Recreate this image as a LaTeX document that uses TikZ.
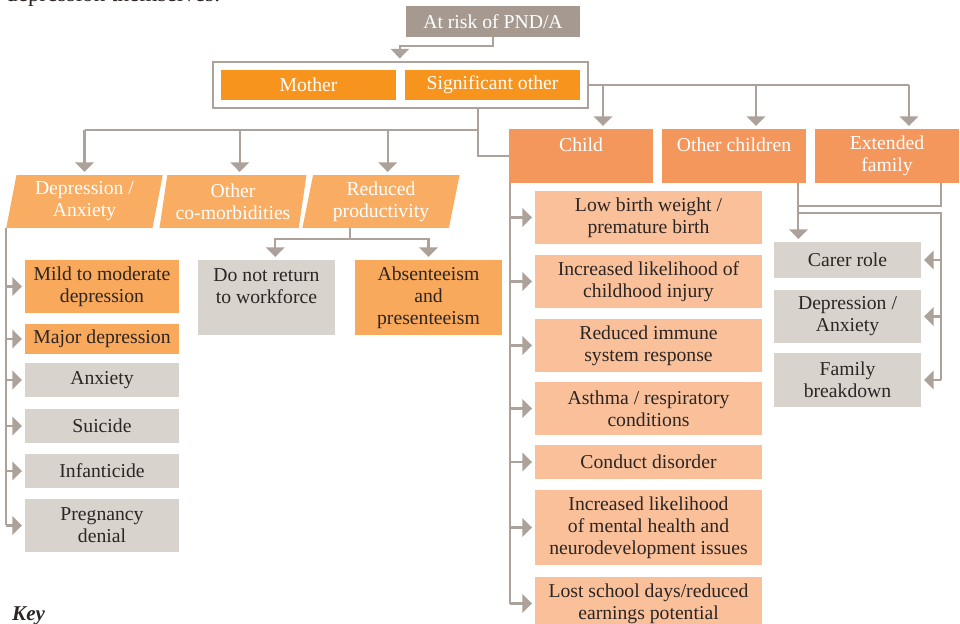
\documentclass[tikz,border=0pt]{standalone}
\usepackage{fontspec}
\setmainfont{Liberation Serif}
\usetikzlibrary{arrows.meta, shapes.geometric, fit}

\definecolor{riskgray}{HTML}{A69A90}
\definecolor{motherorange}{HTML}{F7941D}
\definecolor{childorange}{HTML}{F4975C}
\definecolor{paraorange}{HTML}{F9AD63}
\definecolor{midorange}{HTML}{F9A95B}
\definecolor{peach}{HTML}{FAC09A}
\definecolor{lightgray}{HTML}{D9D3CE}
\definecolor{linegray}{HTML}{ACA29A}
\definecolor{textdark}{HTML}{2B2523}

\begin{document}
\begin{tikzpicture}[x=0.02cm, y=-0.02cm,
  font=\fontsize{11.2}{12.6}\selectfont,
  base/.style={rectangle, inner sep=0pt, align=center, text=textdark},
  head/.style={base, fill=riskgray, text=white},
  who/.style={base, fill=motherorange, text=white, minimum width=3.5cm, minimum height=0.6cm},
  family/.style={base, fill=childorange, text=white, minimum width=2.88cm, minimum height=1.08cm},
  impact/.style={trapezium, trapezium left angle=79.3, trapezium right angle=100.7,
    trapezium stretches=true, inner sep=0pt, align=center, fill=paraorange, text=white,
    minimum height=1.06cm},
  hit/.style={base, fill=midorange},
  grey/.style={base, fill=lightgray},
  kid/.style={base, fill=peach, minimum width=4.54cm},
  conn/.style={draw=linegray, line width=1.2pt},
  arr/.style={conn, -{Triangle[width=10.5pt,length=5.5pt]}, shorten >=1.5pt}]

  \useasboundingbox (0,0) rectangle (960,624);

  \node[anchor=base west, text=textdark, font=\fontsize{13.2}{15}\selectfont] (intro) at (0,2) {depression themselves.};

  \node[head, minimum width=3.48cm, minimum height=0.62cm] (risk) at (493,21.5) {At risk of PND/A};
  \node[who] (mother)   at (308.5,85) {Mother};
  \node[who] (sigother) at (492.5,85) {Significant other};
  \node[draw=linegray, line width=1.2pt, inner xsep=0.16cm, inner ysep=0.15cm, fit=(mother)(sigother)] (frame) {};

  \node[family] (child)  at (581,156) {Child\\~};
  \node[family] (othch)  at (734,156) {Other children\\~};
  \node[family] (extfam) at (887,156) {Extended\\family};

  \node[impact, minimum width=3.14cm] (dep)     at (84.5,201.5) {Depression /\\Anxiety};
  \node[impact, minimum width=2.96cm] (comorb)  at (233,201.5)  {Other\\co-morbidities};
  \node[impact, minimum width=3.16cm] (redprod) at (381,201.5)  {Reduced\\productivity};

  \node[hit,  minimum width=3.08cm, minimum height=1.06cm] (mild)   at (102,286.5) {Mild to moderate\\depression};
  \node[hit,  minimum width=3.08cm, minimum height=0.6cm]  (major)  at (102,339)   {Major depression};
  \node[grey, minimum width=3.08cm, minimum height=0.68cm] (anx)    at (102,380)   {Anxiety};
  \node[grey, minimum width=3.08cm, minimum height=0.68cm] (suic)   at (102,426)   {Suicide};
  \node[grey, minimum width=3.08cm, minimum height=0.68cm] (infant) at (102,471)   {Infanticide};
  \node[grey, minimum width=3.08cm, minimum height=1.06cm] (denial) at (102,525.5) {Pregnancy\\denial};

  \node[grey, minimum width=2.74cm, minimum height=1.5cm] (noreturn) at (266.5,297.5) {Do not return\\to workforce\\~};
  \node[hit,  minimum width=2.94cm, minimum height=1.5cm] (absent)   at (428.5,297.5) {Absenteeism\\and\\presenteeism};

  \node[kid, minimum height=1.06cm] (lbw)     at (648.5,217.5) {Low birth weight /\\premature birth};
  \node[kid, minimum height=1.06cm] (injury)  at (648.5,281.5) {Increased likelihood of\\childhood injury};
  \node[kid, minimum height=1.06cm] (immune)  at (648.5,345.5) {Reduced immune\\system response};
  \node[kid, minimum height=1.06cm] (asthma)  at (648.5,408.5) {Asthma / respiratory\\conditions};
  \node[kid, minimum height=0.68cm] (conduct) at (648.5,462)   {Conduct disorder};
  \node[kid, minimum height=1.5cm]  (mental)  at (648.5,527.5) {Increased likelihood\\of mental health and\\neurodevelopment issues};
  \node[kid, minimum height=1.06cm] (lost)    at (648.5,603.5) {Lost school days/reduced\\earnings potential};

  \node[grey, minimum width=2.94cm, minimum height=0.72cm] (carer)   at (847.5,260)   {Carer role};
  \node[grey, minimum width=2.94cm, minimum height=1.06cm] (depanx2) at (847.5,316.5) {Depression /\\Anxiety};
  \node[grey, minimum width=2.94cm, minimum height=1.08cm] (famb)    at (847.5,380)   {Family\\breakdown};

  \node[anchor=base west, text=textdark, font=\fontsize{12}{14}\selectfont\bfseries\itshape] (key) at (6,620) {Key};

  % top of the tree
  \draw[arr] (risk.south) -- ++(0,9) -| ([xshift=2pt]mother.east |- frame.north);

  \coordinate (split) at (478,130);
  \draw[conn] (frame.south -| split) -- (split |- child.west) -- (child.west);
  \draw[conn] (split) -- (split -| dep.north);
  \draw[arr] (split -| dep.north) -- (dep.north);
  \foreach \n in {comorb,redprod}
    \draw[arr] ([xshift=3.8pt]split -| \n.north) -- ([xshift=3.8pt]\n.north);

  \draw[conn] (frame.east) -- ([xshift=12.5pt]frame.east -| extfam.north);
  \foreach \n in {child,othch,extfam}
    \draw[arr] ([xshift=12.5pt]frame.east -| \n.north) -- ([xshift=12.5pt]\n.north);

  % mother's own outcomes
  \draw[conn] (dep.bottom left corner) -- (dep.bottom left corner |- denial.west);
  \foreach \n in {mild,major,anx,suic,infant,denial}
    \draw[arr] (dep.bottom left corner |- \n.west) -- (\n.west);

  \coordinate (rp) at (350,239);
  \draw[conn] (rp |- redprod.south) -- (rp);
  \draw[arr] (rp) -| ([xshift=5pt]noreturn.north);
  \draw[arr] (rp) -| (absent.north);

  % child
  \draw[conn] ([xshift=1pt]child.south west) -- ([xshift=1pt]child.south west |- lost.west);
  \foreach \n in {lbw,injury,immune,asthma,conduct,mental,lost}
    \draw[arr] ([xshift=1pt]child.south west |- \n.west) -- (\n.west);

  % other children and extended family
  \coordinate (oc) at ([xshift=-4.5pt]othch.south east);
  \coordinate (ef) at ([xshift=-10.5pt]extfam.south east);
  \draw[arr] (oc) -- (oc |- carer.north);
  \draw[conn] (ef) -- ++(0,23) -| (oc);
  \path (oc) ++(0,30) coordinate (fl);
  \draw[conn] (fl) -- (fl -| ef) -- (ef |- famb.east);
  \foreach \n in {carer,depanx2,famb}
    \draw[arr] (ef |- \n.east) -- (\n.east);
\end{tikzpicture}
\end{document}
